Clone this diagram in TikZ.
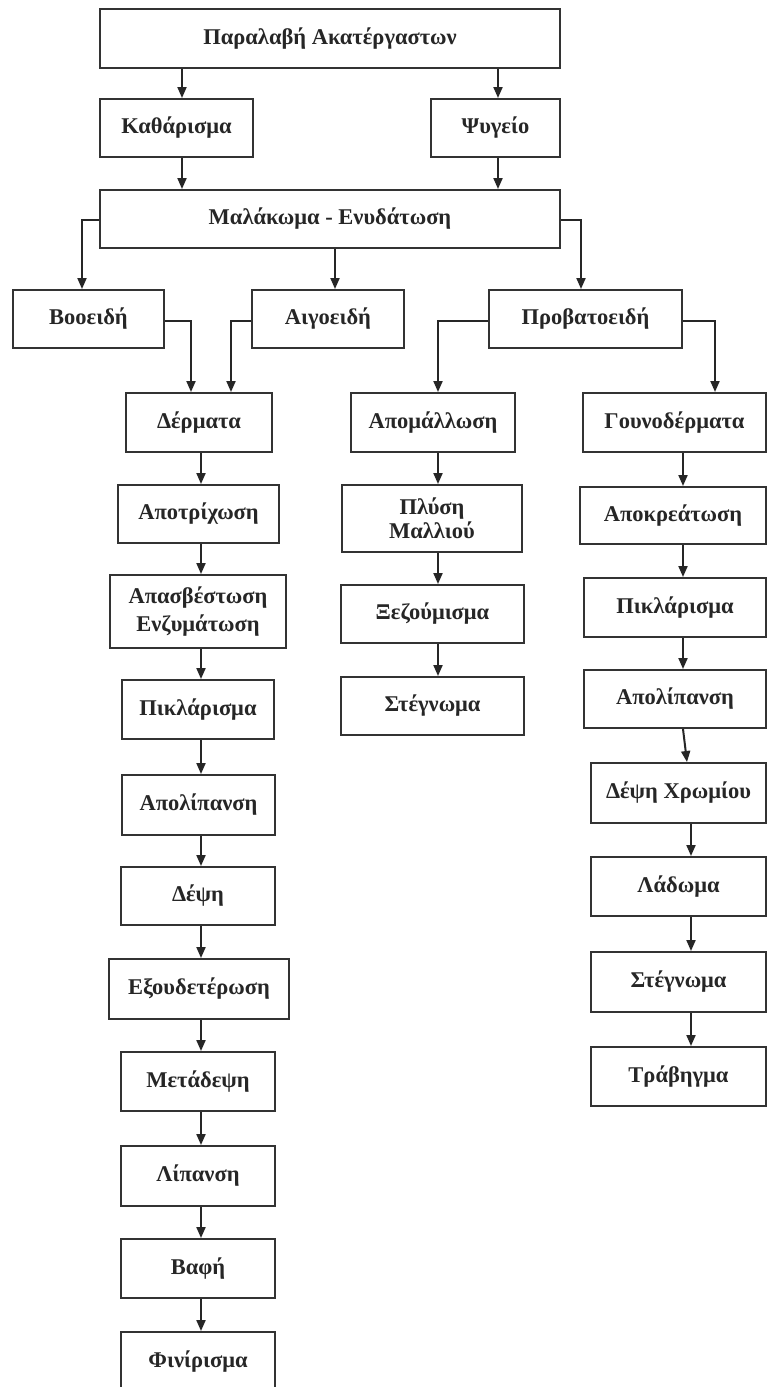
\documentclass[tikz,border=0pt]{standalone}
\usepackage{fontspec}
\newfontfamily\lblfont{Liberation Serif}
\usetikzlibrary{arrows.meta}
\tikzset{
  box/.style={draw=black!80, line width=2pt, fill=white, inner sep=0pt, align=center,
    font=\lblfont\bfseries\fontsize{22.5}{27}\selectfont, text=black!85},
  arr/.style={draw=black!85, line width=2pt, -{Triangle[length=11pt,width=9pt]}}
}
\begin{document}
\begin{tikzpicture}[x=1pt,y=-1pt]
\useasboundingbox (0,0) rectangle (767,1387);
\clip (0,0) rectangle (767,1387);
\fill[white] (0,0) rectangle (767,1387);
% nodes: name, center x, center y, width, height
\newcommand\bx[6]{\node[box, minimum width=#4pt, minimum height=#5pt] (#1) at (#2,#3) {#6};}
\bx{top}{330}{38.5}{460}{59}{Παραλαβή Ακατέργαστων}
\bx{kath}{176.5}{128}{153}{58}{Καθάρισμα}
\bx{psy}{495.5}{128}{129}{58}{Ψυγείο}
\bx{mal}{330}{219}{460}{58}{Μαλάκωμα - Ενυδάτωση}
\bx{boo}{88.5}{319}{151}{58}{Βοοειδή}
\bx{aig}{328}{319}{152}{58}{Αιγοειδή}
\bx{prob}{585.5}{319}{193}{58}{Προβατοειδή}
% left column
\bx{derm}{199}{422.5}{146}{59}{Δέρματα}
\bx{apotr}{198.5}{514}{161}{58}{Αποτρίχωση}
\bx{apasv}{198}{611.5}{176}{73}{Απασβέστωση\\[1pt]Ενζυμάτωση}
\bx{pikla}{198}{709.5}{152}{59}{Πικλάρισμα}
\bx{apola}{198.5}{805}{153}{60}{Απολίπανση}
\bx{depsi}{198}{896}{154}{58}{Δέψη}
\bx{exoud}{199}{989}{180}{60}{Εξουδετέρωση}
\bx{metad}{198}{1081.5}{154}{59}{Μετάδεψη}
\bx{lipan}{198}{1176}{154}{60}{Λίπανση}
\bx{vafi}{198}{1268.5}{154}{59}{Βαφή}
\bx{finir}{198}{1362}{154}{60}{Φινίρισμα}
% middle column
\bx{apom}{433}{422.5}{164}{59}{Απομάλλωση}
\bx{plysi}{432}{518.5}{180}{67}{Πλύση\\[-3pt]Μαλλιού}
\bx{xez}{432.5}{614}{183}{58}{Ξεζούμισμα}
\bx{stega}{432.5}{706}{183}{58}{Στέγνωμα}
% right column
\bx{gouno}{674.5}{422.5}{183}{59}{Γουνοδέρματα}
\bx{apokr}{673}{515.5}{186}{57}{Αποκρεάτωση}
\bx{piklb}{675}{607.5}{182}{59}{Πικλάρισμα}
\bx{apolb}{675}{699}{182}{58}{Απολίπανση}
\bx{depx}{678.5}{793}{175}{60}{Δέψη Χρωμίου}
\bx{lad}{678.5}{886.5}{175}{59}{Λάδωμα}
\bx{stegb}{678.5}{982}{175}{60}{Στέγνωμα}
\bx{trav}{678.5}{1076.5}{175}{59}{Τράβηγμα}
% connectors
\draw[arr] (top.south -| 182,0) -- (kath.north -| 182,0);
\draw[arr] (top.south -| 498,0) -- (psy.north -| 498,0);
\draw[arr] (kath.south -| 182,0) -- (mal.north -| 182,0);
\draw[arr] (psy.south -| 498,0) -- (mal.north -| 498,0);
\draw[arr] (mal.west |- 0,220) -| (boo.north -| 82,0);
\draw[arr] (mal.south -| 335,0) -- (aig.north -| 335,0);
\draw[arr] (mal.east |- 0,220) -| (prob.north -| 581,0);
\draw[arr] (boo.east |- 0,321) -| (derm.north -| 191,0);
\draw[arr] (aig.west |- 0,321) -| (derm.north -| 231,0);
\draw[arr] (prob.west |- 0,321) -| (apom.north -| 438,0);
\draw[arr] (prob.east |- 0,321) -| (gouno.north -| 715,0);
% left chain
\foreach \a/\b in {derm/apotr, apotr/apasv, apasv/pikla, pikla/apola, apola/depsi, depsi/exoud, exoud/metad, metad/lipan, lipan/vafi, vafi/finir}
  \draw[arr] (\a.south -| 201,0) -- (\b.north -| 201,0);
% middle chain
\foreach \a/\b in {apom/plysi, plysi/xez, xez/stega}
  \draw[arr] (\a.south -| 438,0) -- (\b.north -| 438,0);
% right chain
\foreach \a/\b in {gouno/apokr, apokr/piklb, piklb/apolb}
  \draw[arr] (\a.south -| 683,0) -- (\b.north -| 683,0);
\draw[arr] (apolb.south -| 683,0) -- (depx.north -| 687,0);
\foreach \a/\b in {depx/lad, lad/stegb, stegb/trav}
  \draw[arr] (\a.south -| 691,0) -- (\b.north -| 691,0);
\end{tikzpicture}
\end{document}
